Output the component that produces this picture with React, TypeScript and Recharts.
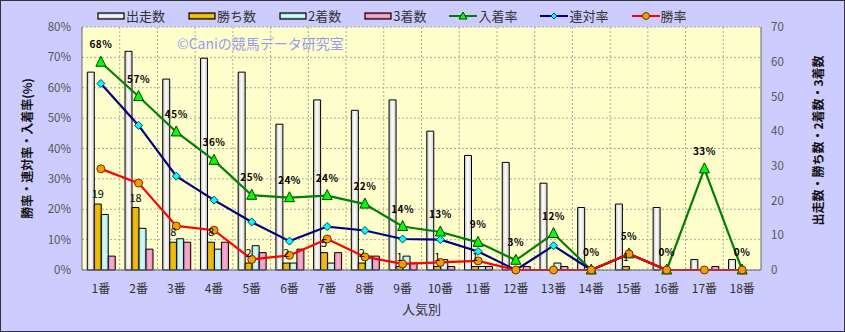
import React from 'react';
import { ComposedChart, Bar, Line, XAxis, YAxis, CartesianGrid, LabelList } from 'recharts';

const categories = ['1番', '2番', '3番', '4番', '5番', '6番', '7番', '8番', '9番', '10番', '11番', '12番', '13番', '14番', '15番', '16番', '17番', '18番'];
const starters = [57, 63, 55, 61, 57, 42, 49, 46, 49, 40, 33, 31, 25, 18, 19, 18, 3, 3];
const wins = [19, 18, 8, 8, 2, 2, 5, 2, 1, 1, 1, 0, 0, 0, 1, 0, 0, 0];
const seconds = [16, 12, 9, 6, 7, 2, 2, 4, 4, 3, 1, 0, 2, 0, 0, 0, 0, 0];
const thirds = [4, 6, 8, 8, 5, 6, 5, 4, 2, 1, 1, 1, 1, 0, 0, 0, 1, 0];
const showRate = [68.4, 57.1, 45.45, 36.1, 24.6, 23.8, 24.49, 21.7, 14.3, 12.5, 9.1, 3.2, 12.0, 0, 5.3, 0, 33.3, 0];
const quinellaRate = [61.4, 47.6, 30.9, 23.0, 15.8, 9.5, 14.3, 13.0, 10.2, 10.0, 6.1, 0, 8.0, 0, 5.3, 0, 0, 0];
const winRate = [33.3, 28.6, 14.5, 13.1, 3.5, 4.8, 10.2, 4.3, 2.0, 2.5, 3.0, 0, 0, 0, 5.3, 0, 0, 0];
const leftTicks = [0, 10, 20, 30, 40, 50, 60, 70, 80];
const rightTicks = [0, 10, 20, 30, 40, 50, 60, 70];

const data = categories.map((name, i) => ({
  name,
  starters: starters[i],
  wins: wins[i],
  seconds: seconds[i],
  thirds: thirds[i],
  showRate: showRate[i],
  quinellaRate: quinellaRate[i],
  winRate: winRate[i],
}));

const FONT = '"Noto Sans CJK JP", "Noto Sans", sans-serif';

const Triangle = (props: any) => {
  const { cx, cy, index } = props;
  if (cx == null || cy == null) return null;
  return (
    <polygon
      key={`tri-${index}`}
      points={`${cx},${cy - 6} ${cx - 5},${cy + 4} ${cx + 5},${cy + 4}`}
      fill="#00FF00"
      stroke="#004400"
      strokeWidth={1}
    />
  );
};

const Diamond = (props: any) => {
  const { cx, cy, index } = props;
  if (cx == null || cy == null) return null;
  return (
    <polygon
      key={`dia-${index}`}
      points={`${cx},${cy - 4} ${cx + 4},${cy} ${cx},${cy + 4} ${cx - 4},${cy}`}
      fill="#00FFFF"
      stroke="#004466"
      strokeWidth={1}
    />
  );
};

const Dot = (props: any) => {
  const { cx, cy, index } = props;
  if (cx == null || cy == null) return null;
  return <circle key={`dot-${index}`} cx={cx} cy={cy} r={4} fill="#FF9900" stroke="#663300" strokeWidth={1} />;
};

const ShowLabel = (props: any) => {
  const { x, y, value } = props;
  if (x == null || y == null) return null;
  return (
    <text x={x} y={y - 14} textAnchor="middle" fontSize={10} fontWeight="bold" fill="#000" fontFamily={FONT} letterSpacing={0.5}>
      {`${Math.round(Number(value))}%`}
    </text>
  );
};

const WinLabel = (props: any) => {
  const { x, y, width, value } = props;
  if (x == null || y == null || !value) return null;
  return (
    <text x={x + width / 2} y={y - 6} textAnchor="middle" fontSize={11} fill="#000" fontFamily={FONT}>
      {value}
    </text>
  );
};

const legendItems = [
  { name: '出走数', type: 'bar', c1: '#BBBBBB', c2: '#FFFFFF' },
  { name: '勝ち数', type: 'bar', c1: '#C89400', c2: '#FFCC00' },
  { name: '2着数', type: 'bar', c1: '#88CCCC', c2: '#DDFFFF' },
  { name: '3着数', type: 'bar', c1: '#D8709C', c2: '#FFB0D8' },
  { name: '入着率', type: 'line', stroke: '#008000', marker: 'tri' },
  { name: '連対率', type: 'line', stroke: '#000080', marker: 'dia' },
  { name: '勝率', type: 'line', stroke: '#FF0000', marker: 'dot' },
];

const LegendIcon = ({ item }: any) => {
  if (item.type === 'bar') {
    return (
      <svg width={28} height={10} style={{ display: 'block' }}>
        <defs>
          <linearGradient id={`lg-${item.name}`} x1="0" y1="0" x2="0" y2="1">
            <stop offset="0%" stopColor={item.c1} />
            <stop offset="50%" stopColor={item.c2} />
            <stop offset="100%" stopColor={item.c1} />
          </linearGradient>
        </defs>
        <rect x={1} y={2} width={26} height={6} fill={`url(#lg-${item.name})`} stroke="#000" strokeWidth={1.2} />
      </svg>
    );
  }
  return (
    <svg width={28} height={10} style={{ display: 'block' }}>
      <line x1={0} y1={5} x2={28} y2={5} stroke={item.stroke} strokeWidth={2} />
      {item.marker === 'tri' && <polygon points="14,1 10,8 18,8" fill="#00FF00" stroke="#004400" strokeWidth={1} />}
      {item.marker === 'dia' && <polygon points="14,2 17,5 14,8 11,5" fill="#00FFFF" stroke="#004466" strokeWidth={1} />}
      {item.marker === 'dot' && <circle cx={14} cy={5} r={3.5} fill="#FF9900" stroke="#663300" strokeWidth={1} />}
    </svg>
  );
};

export default function App() {
  return (
    <div
      style={{
        position: 'absolute',
        left: 0,
        top: 0,
        width: 845,
        height: 332,
        boxSizing: 'border-box',
        border: '1px solid #333',
        background: '#CCCCFF',
        fontFamily: FONT,
        overflow: 'hidden',
      }}
    >
      <div style={{ position: 'absolute', left: -1, top: -1 }}>
        <ComposedChart
          width={845}
          height={332}
          data={data}
          margin={{ top: 27, right: 0, bottom: 0, left: 0 }}
          barCategoryGap="14%"
          barGap={0}
        >
          <defs>
            <linearGradient id="gWhite" x1="0" y1="0" x2="1" y2="0">
              <stop offset="0%" stopColor="#BEBEBE" />
              <stop offset="45%" stopColor="#FFFFFF" />
              <stop offset="100%" stopColor="#D0D0D0" />
            </linearGradient>
            <linearGradient id="gGold" x1="0" y1="0" x2="1" y2="0">
              <stop offset="0%" stopColor="#E0A800" />
              <stop offset="50%" stopColor="#F5C000" />
              <stop offset="100%" stopColor="#E0A800" />
            </linearGradient>
            <linearGradient id="gCyan" x1="0" y1="0" x2="1" y2="0">
              <stop offset="0%" stopColor="#A8E4E4" />
              <stop offset="50%" stopColor="#D4FAFA" />
              <stop offset="100%" stopColor="#A8E4E4" />
            </linearGradient>
            <linearGradient id="gPink" x1="0" y1="0" x2="1" y2="0">
              <stop offset="0%" stopColor="#EE88B8" />
              <stop offset="50%" stopColor="#FAAED2" />
              <stop offset="100%" stopColor="#EE88B8" />
            </linearGradient>
          </defs>
          <CartesianGrid
            yAxisId="left"
            fill="#FFFFCC"
            stroke="#A8A8A0"
            strokeDasharray="2 2"
            verticalCoordinatesGenerator={({ offset }: any) =>
              categories.slice(1).map((_, i) => offset.left + ((i + 1) * offset.width) / categories.length)
            }
          />
          <XAxis
            dataKey="name"
            height={62}
            tickLine={false}
            tickSize={0}
            tickMargin={14}
            axisLine={{ stroke: '#666' }}
            tick={{ fontSize: 12, fill: '#333', fontFamily: FONT }}
            interval={0}
            label={{ value: '人気別', position: 'insideBottom', offset: 18, fontSize: 13, fill: '#333', fontFamily: FONT }}
          />
          <YAxis
            yAxisId="left"
            width={82}
            domain={[0, 80]}
            ticks={leftTicks}
            tickFormatter={(v: number) => `${v}%`}
            tickLine={false}
            tickSize={0}
            tickMargin={11}
            axisLine={{ stroke: '#666' }}
            tick={{ fontSize: 11.5, fill: '#555', fontFamily: FONT }}
            label={{
              value: '勝率・連対率・入着率(%)',
              angle: -90,
              position: 'center',
              dx: -13,
              fontSize: 12,
              fontWeight: 'bold',
              fill: '#111',
              fontFamily: FONT,
            }}
          />
          <YAxis
            yAxisId="right"
            orientation="right"
            width={84}
            domain={[0, 70]}
            ticks={rightTicks}
            tickLine={false}
            tickSize={0}
            tickMargin={10}
            axisLine={{ stroke: '#666' }}
            tick={{ fontSize: 11.5, fill: '#555', fontFamily: FONT }}
            label={{
              value: '出走数・勝ち数・2着数・3着数',
              angle: -90,
              position: 'center',
              dx: 16,
              dy: -8,
              fontSize: 12,
              fontWeight: 'bold',
              fill: '#111',
              fontFamily: FONT,
            }}
          />
          <Bar yAxisId="right" dataKey="starters" name="出走数" fill="url(#gWhite)" stroke="#000" strokeWidth={1} isAnimationActive={false} />
          <Bar yAxisId="right" dataKey="wins" name="勝ち数" fill="url(#gGold)" stroke="#000" strokeWidth={1} isAnimationActive={false}>
            <LabelList dataKey="wins" content={WinLabel} />
          </Bar>
          <Bar yAxisId="right" dataKey="seconds" name="2着数" fill="url(#gCyan)" stroke="#000" strokeWidth={1} isAnimationActive={false} />
          <Bar yAxisId="right" dataKey="thirds" name="3着数" fill="url(#gPink)" stroke="#000" strokeWidth={1} isAnimationActive={false} />
          <Line yAxisId="left" type="linear" dataKey="showRate" name="入着率" stroke="#008000" strokeWidth={2.2} dot={Triangle} activeDot={false} isAnimationActive={false}>
            <LabelList dataKey="showRate" content={ShowLabel} />
          </Line>
          <Line yAxisId="left" type="linear" dataKey="quinellaRate" name="連対率" stroke="#000080" strokeWidth={2.2} dot={Diamond} activeDot={false} isAnimationActive={false} />
          <Line yAxisId="left" type="linear" dataKey="winRate" name="勝率" stroke="#FF0000" strokeWidth={2.2} dot={Dot} activeDot={false} isAnimationActive={false} />
        </ComposedChart>
      </div>
      <div
        style={{
          position: 'absolute',
          left: 96,
          top: 7,
          display: 'flex',
          alignItems: 'center',
          fontSize: 13,
          color: '#333',
          lineHeight: '16px',
          whiteSpace: 'nowrap',
        }}
      >
        {legendItems.map((item) => (
          <div key={item.name} style={{ display: 'flex', alignItems: 'center', marginRight: 23 }}>
            <LegendIcon item={item} />
            <span style={{ marginLeft: 1 }}>{item.name}</span>
          </div>
        ))}
      </div>
      <div
        style={{
          position: 'absolute',
          left: 176,
          top: 33,
          fontSize: 14,
          color: '#9A9AF2',
          lineHeight: '18px',
          whiteSpace: 'nowrap',
        }}
      >
        ©Caniの競馬データ研究室
      </div>
    </div>
  );
}
